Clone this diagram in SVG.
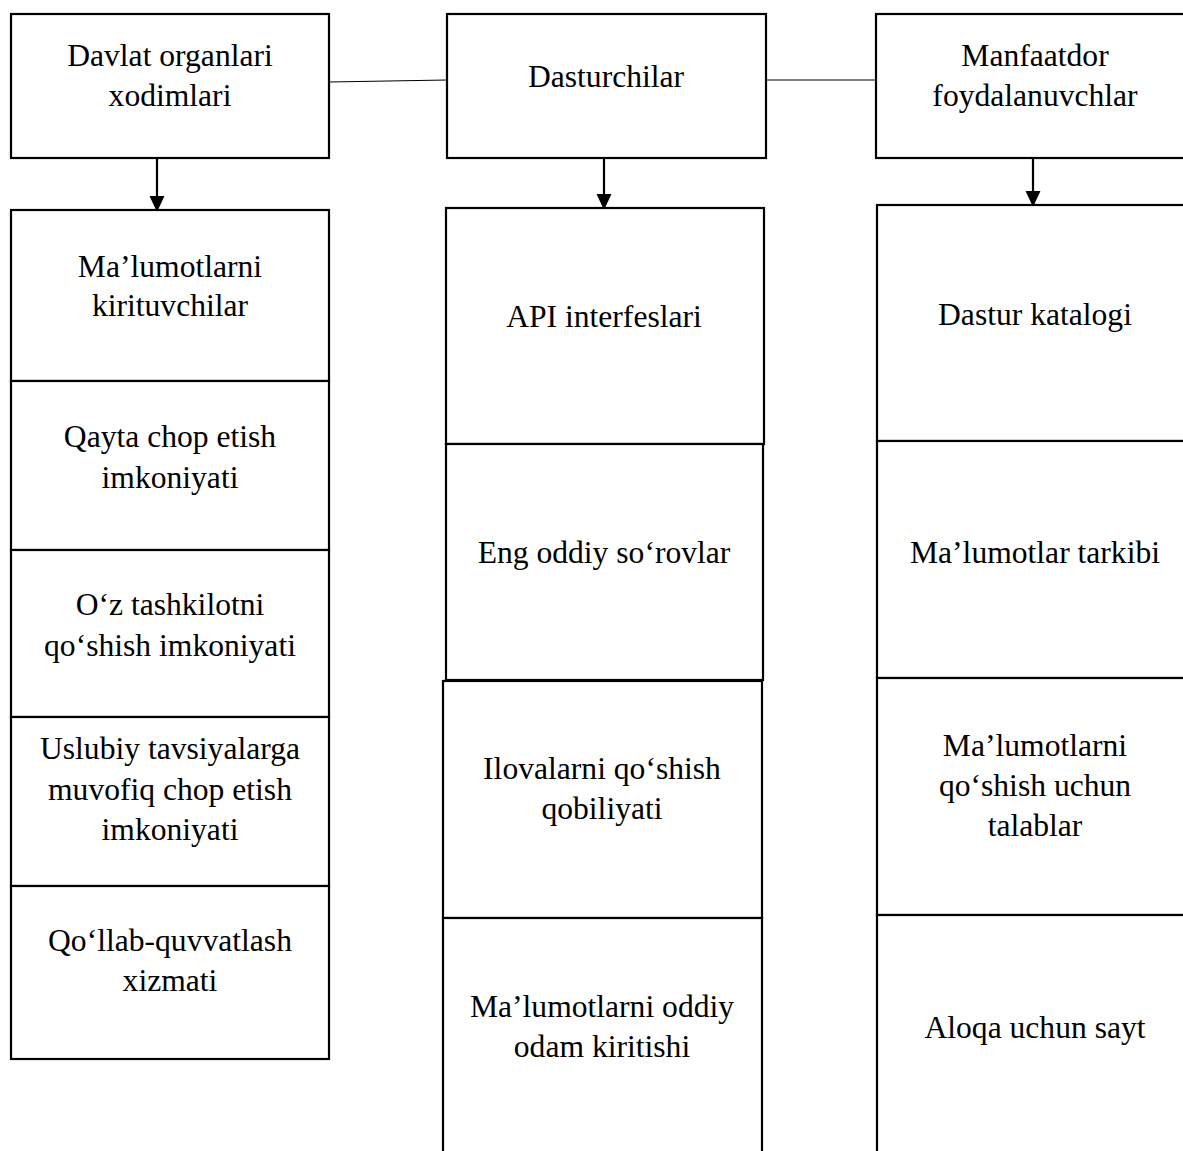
<svg xmlns="http://www.w3.org/2000/svg" width="1183" height="1151" viewBox="0 0 1183 1151">
<defs>
<style>
.box{fill:#fff;stroke:#000;stroke-width:2.2}
.t{font-family:"Liberation Serif","Times New Roman",serif;font-size:31.6px;fill:#000;text-anchor:middle}
.ln{stroke:#000;stroke-width:1.2;fill:none}
.ar{stroke:#000;stroke-width:2.2;fill:none}
</style>
<marker id="ah" markerWidth="8" markerHeight="7" refX="7.5" refY="3.5" orient="auto" markerUnits="strokeWidth">
<path d="M0,0 L7.5,3.5 L0,7 Z" fill="#000"/>
</marker>
</defs>
<rect width="1183" height="1151" fill="#fff"/>

<g id="connectors">
<line class="ln" x1="329" y1="82" x2="447" y2="80"/>
<line class="ln" x1="766" y1="80" x2="876" y2="80"/>
<line class="ar" x1="157" y1="155" x2="157" y2="212" marker-end="url(#ah)"/>
<line class="ar" x1="604" y1="151" x2="604" y2="210" marker-end="url(#ah)"/>
<line class="ar" x1="1033" y1="158" x2="1033" y2="207" marker-end="url(#ah)"/>
</g>

<g id="n-davlat"><rect class="box" x="11" y="14" width="318" height="144"/>
<text class="t" x="170" y="66">Davlat organlari</text><text class="t" x="170" y="106">xodimlari</text></g>
<g id="n-dasturchilar"><rect class="box" x="447" y="14" width="319" height="144"/>
<text class="t" x="606" y="87">Dasturchilar</text></g>
<g id="n-manfaatdor"><rect class="box" x="876" y="14" width="320" height="144"/>
<text class="t" x="1035" y="66">Manfaatdor</text><text class="t" x="1035" y="106">foydalanuvchlar</text></g>

<g id="n-l1"><rect class="box" x="11" y="210" width="318" height="171"/>
<text class="t" x="170" y="277">Ma’lumotlarni</text><text class="t" x="170" y="316">kirituvchilar</text></g>
<g id="n-l2"><rect class="box" x="11" y="381" width="318" height="169"/>
<text class="t" x="170" y="447">Qayta chop etish</text><text class="t" x="170" y="488">imkoniyati</text></g>
<g id="n-l3"><rect class="box" x="11" y="550" width="318" height="167"/>
<text class="t" x="170" y="615">O‘z tashkilotni</text><text class="t" x="170" y="656">qo‘shish imkoniyati</text></g>
<g id="n-l4"><rect class="box" x="11" y="717" width="318" height="169"/>
<text class="t" x="170" y="759">Uslubiy tavsiyalarga</text><text class="t" x="170" y="800">muvofiq chop etish</text><text class="t" x="170" y="840">imkoniyati</text></g>
<g id="n-l5"><rect class="box" x="11" y="886" width="318" height="173"/>
<text class="t" x="170" y="951">Qo‘llab-quvvatlash</text><text class="t" x="170" y="991">xizmati</text></g>

<g id="n-m1"><rect class="box" x="446" y="208" width="318" height="236"/>
<text class="t" x="604" y="327">API interfeslari</text></g>
<g id="n-m2"><rect class="box" x="446" y="444" width="317" height="236"/>
<text class="t" x="604" y="563">Eng oddiy so‘rovlar</text></g>
<g id="n-m3"><rect class="box" x="443" y="681" width="319" height="237"/>
<text class="t" x="602" y="779">Ilovalarni qo‘shish</text><text class="t" x="602" y="819">qobiliyati</text></g>
<g id="n-m4"><rect class="box" x="443" y="918" width="319" height="245"/>
<text class="t" x="602" y="1017">Ma’lumotlarni oddiy</text><text class="t" x="602" y="1057">odam kiritishi</text></g>

<g id="n-r1"><rect class="box" x="877" y="205" width="318" height="236"/>
<text class="t" x="1035" y="325">Dastur katalogi</text></g>
<g id="n-r2"><rect class="box" x="877" y="441" width="318" height="237"/>
<text class="t" x="1035" y="563">Ma’lumotlar tarkibi</text></g>
<g id="n-r3"><rect class="box" x="877" y="678" width="318" height="237"/>
<text class="t" x="1035" y="756">Ma’lumotlarni</text><text class="t" x="1035" y="796">qo‘shish uchun</text><text class="t" x="1035" y="836">talablar</text></g>
<g id="n-r4"><rect class="box" x="877" y="915" width="318" height="248"/>
<text class="t" x="1035" y="1038">Aloqa uchun sayt</text></g>
</svg>
